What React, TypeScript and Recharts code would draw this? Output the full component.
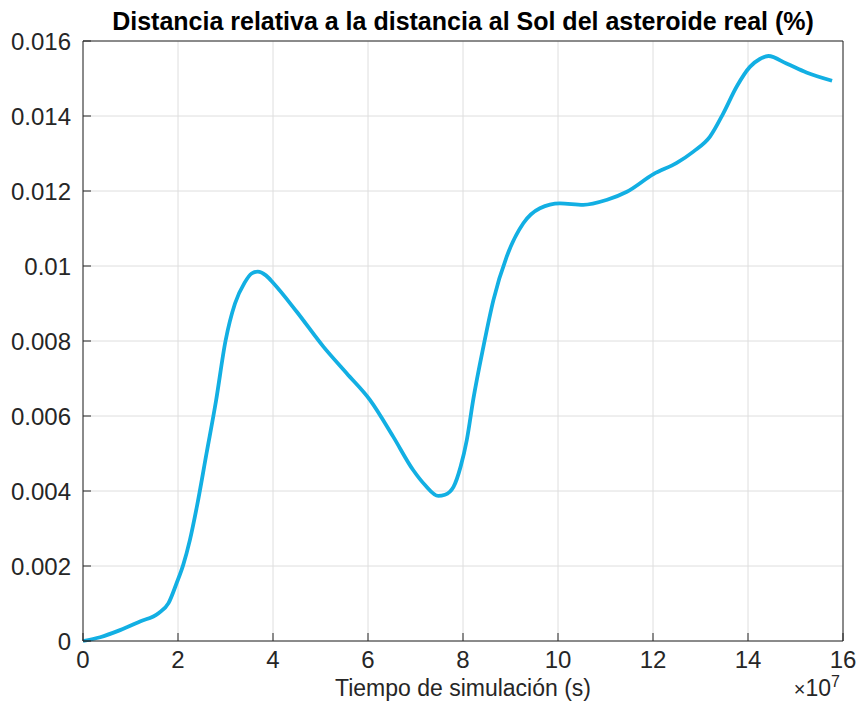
import React from "react";
import { LineChart, Line, XAxis, YAxis, CartesianGrid, Label } from "recharts";

// Simulation time, in units of 1e7 s
const timeE7 = [
  0, 0.36, 0.78, 1.2, 1.59, 1.8, 1.97, 2.11, 2.25, 2.4, 2.6, 2.8, 3.0, 3.2,
  3.4, 3.55, 3.68, 3.85, 4.01, 4.5, 5.06, 5.55, 6.04, 6.53, 6.95, 7.2, 7.48,
  7.62, 7.8, 7.95, 8.08, 8.22, 8.43, 8.64, 8.92, 9.27, 9.62, 10.04, 10.53,
  11.02, 11.45, 12.01, 12.5, 12.85, 13.2, 13.48, 13.76, 14.04, 14.25, 14.43,
  14.81, 15.23, 15.77,
];

// Relative distance to the Sun vs. the real asteroid (%)
const relDistance = [
  0, 0.0001, 0.00029, 0.00052, 0.00074, 0.00101, 0.00154, 0.00203, 0.00269,
  0.0036, 0.005, 0.0064, 0.008, 0.009, 0.00955, 0.0098, 0.00985, 0.00975,
  0.00954, 0.00878, 0.00785, 0.00714, 0.00643, 0.00545, 0.00456, 0.00416,
  0.00387, 0.0039, 0.00411, 0.00465, 0.00536, 0.00647, 0.00785, 0.00909,
  0.01025, 0.01114, 0.01154, 0.01167, 0.01163, 0.01176, 0.01198, 0.01245,
  0.01275, 0.01305, 0.01345, 0.01407, 0.01478, 0.01531, 0.01552, 0.0156,
  0.0154, 0.01516, 0.01494,
];

const xTicks = [0, 2, 4, 6, 8, 10, 12, 14, 16];
const yTicks = [0, 0.002, 0.004, 0.006, 0.008, 0.01, 0.012, 0.014, 0.016];

const title = "Distancia relativa a la distancia al Sol del asteroide real (%)";
const xLabel = "Tiempo de simulación (s)";

const data = timeE7.map((t, i) => ({ t, d: relDistance[i] }));

const FONT = '"Liberation Sans", Arial, Helvetica, sans-serif';
const AXIS = "#262626";
const TICK_FONT = { fontSize: 24, fill: AXIS, fontFamily: FONT };

const fmtY = (v: number) => String(Number(v.toFixed(3)));

const ExponentLabel = (props: any) => {
  const vb = props.viewBox || {};
  const xEnd = vb.x + vb.width - 3;
  const y = vb.y + 55;
  return (
    <text
      x={xEnd}
      y={y}
      textAnchor="end"
      fill={AXIS}
      fontFamily={FONT}
      fontSize={23}
    >
      <tspan fontSize={20}>×</tspan>
      <tspan>10</tspan>
      <tspan dy={-9} fontSize={16}>
        7
      </tspan>
    </text>
  );
};

export default function App() {
  return (
    <div style={{ position: "absolute", left: 0, top: 0, background: "#fff" }}>
      <LineChart
        width={861}
        height={715}
        data={data}
        margin={{ top: 40, right: 17, bottom: 14, left: 8 }}
      >
        <CartesianGrid stroke="#dedede" strokeWidth={1} xAxisId="b" yAxisId="l" />
        <XAxis
          xAxisId="b"
          dataKey="t"
          type="number"
          domain={[0, 16]}
          ticks={xTicks}
          height={60}
          stroke={AXIS}
          tickSize={-8}
          tickMargin={18}
          tick={TICK_FONT}
          interval={0}
        >
          <Label
            value={xLabel}
            position="insideBottom"
            offset={5}
            style={{ fontSize: 23, fill: AXIS, fontFamily: FONT }}
          />
          <Label content={ExponentLabel} />
        </XAxis>
        <XAxis
          xAxisId="top"
          dataKey="t"
          type="number"
          orientation="top"
          domain={[0, 16]}
          ticks={xTicks}
          height={1}
          stroke={AXIS}
          tickSize={-8}
          tick={false}
          interval={0}
        >
          <Label
            value={title}
            position="top"
            offset={10}
            style={{
              fontSize: 25,
              fontWeight: "bold",
              fill: "#000",
              fontFamily: FONT,
            }}
          />
        </XAxis>
        <YAxis
          yAxisId="l"
          type="number"
          domain={[0, 0.016]}
          ticks={yTicks}
          width={75}
          stroke={AXIS}
          tickSize={-8}
          tickMargin={20}
          tick={TICK_FONT}
          tickFormatter={fmtY}
          interval={0}
        />
        <YAxis
          yAxisId="r"
          type="number"
          orientation="right"
          domain={[0, 0.016]}
          ticks={yTicks}
          width={1}
          stroke={AXIS}
          tickSize={-8}
          tick={false}
          interval={0}
        />
        {/* invisible twin series so the top/right box axes get drawn */}
        <Line
          xAxisId="top"
          yAxisId="r"
          type="monotone"
          dataKey="d"
          stroke="none"
          dot={false}
          activeDot={false}
          legendType="none"
          isAnimationActive={false}
        />
        <Line
          xAxisId="b"
          yAxisId="l"
          type="monotone"
          dataKey="d"
          stroke="#12AFE3"
          strokeWidth={3.8}
          dot={false}
          isAnimationActive={false}
        />
      </LineChart>
    </div>
  );
}
